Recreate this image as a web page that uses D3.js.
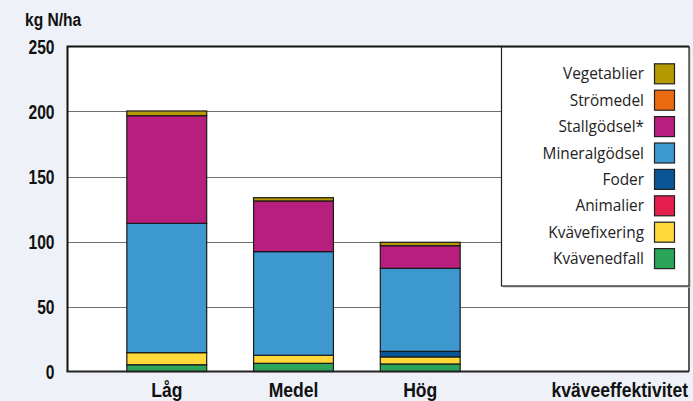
<!DOCTYPE html>
<html>
<head>
<meta charset="utf-8">
<script src="https://cdn.jsdelivr.net/npm/d3@7"></script>
<style>
  body { margin: 0; background: #eef1f8; }
  svg { display: block; }
  .bold { font-family: "Liberation Sans", Arial, sans-serif; font-weight: bold; fill: #111; }
  .leg { font-family: "Open Sans", sans-serif; font-size: 15.4px; fill: #222; }
</style>
</head>
<body>
<div id="chart"></div>
<script>
// categories along x
const categories = ["Låg", "Medel", "Hög"];

// series, bottom to top of the stack
const seriesNames = ["Kvävenedfall", "Kvävefixering", "Animalier", "Foder", "Mineralgödsel", "Stallgödsel*", "Strömedel", "Vegetablier"];
const seriesColors = ["#2ba55a", "#ffd93a", "#e41e4c", "#0a5595", "#3d98d0", "#b81e7e", "#ec6a10", "#b49a00"];

// values per series, one per category (kg N/ha)
const kvavenedfall = [5.2, 6.3, 5.8];
const kvavefixering = [9.3, 6.2, 5.4];
const animalier = [0, 0, 0];
const foder = [0, 0, 4.3];
const mineralgodsel = [99.5, 79.7, 63.9];
const stallgodsel = [82.8, 39.0, 17.4];
const stromedel = [0, 0, 0];
const vegetablier = [3.6, 2.5, 2.6];

const yTicks = [0, 50, 100, 150, 200, 250];

const seriesValues = [kvavenedfall, kvavefixering, animalier, foder, mineralgodsel, stallgodsel, stromedel, vegetablier];

const W = 693, H = 401;
const plot = { left: 67.5, right: 689, top: 46.5, bottom: 371.5 };

const rows = categories.map((c, i) => {
    const r = { cat: c };
    seriesNames.forEach((s, k) => { r[s] = seriesValues[k][i]; });
    return r;
});
const stacked = d3.stack().keys(seriesNames)(rows);

const svg = d3.select("#chart").append("svg")
    .attr("width", W)
    .attr("height", H);

const y = d3.scaleLinear().domain([0, 250]).range([plot.bottom, plot.top]);
const x = d3.scaleBand().domain(categories)
    .range([103.4, 483.6])
    .paddingInner(0.37)
    .paddingOuter(0.185);

// condensed bold label: no narrow font installed, so squeeze horizontally
function boldText(parent, txt, px, py, size, squeeze, anchor) {
    return parent.append("g")
        .attr("transform", `translate(${px},${py}) scale(${squeeze},1)`)
        .append("text")
        .attr("class", "bold")
        .attr("font-size", size)
        .attr("text-anchor", anchor)
        .text(txt);
}

// plot background
svg.append("rect")
    .attr("x", plot.left).attr("y", plot.top)
    .attr("width", plot.right - plot.left).attr("height", plot.bottom - plot.top)
    .attr("fill", "#fff");

// grid lines
svg.append("g")
    .selectAll("line")
    .data(yTicks.filter(t => t > 0 && t < 250))
    .join("line")
    .attr("x1", plot.left).attr("x2", plot.right)
    .attr("y1", d => Math.round(y(d)) + 0.5).attr("y2", d => Math.round(y(d)) + 0.5)
    .attr("stroke", "#707070")
    .attr("stroke-width", 1);

// bars
svg.append("g")
    .selectAll("g")
    .data(stacked)
    .join("g")
    .attr("fill", (d, i) => seriesColors[i])
    .selectAll("rect")
    .data(d => d.filter(p => p[1] - p[0] > 0))
    .join("rect")
    .attr("x", d => x(d.data.cat))
    .attr("y", d => y(d[1]))
    .attr("width", x.bandwidth())
    .attr("height", d => y(d[0]) - y(d[1]))
    .attr("stroke", "#1a1a1a")
    .attr("stroke-width", 1.2);

// frame
svg.append("path")
    .attr("d", `M${plot.left},${plot.bottom}V${plot.top}H${plot.right}`)
    .attr("fill", "none").attr("stroke", "#111").attr("stroke-width", 2);
svg.append("line")
    .attr("x1", plot.right).attr("x2", plot.right)
    .attr("y1", plot.top).attr("y2", plot.bottom)
    .attr("stroke", "#333").attr("stroke-width", 1.6);
svg.append("line")
    .attr("x1", plot.left - 1).attr("x2", plot.right)
    .attr("y1", plot.bottom).attr("y2", plot.bottom)
    .attr("stroke", "#222").attr("stroke-width", 2);

// y tick labels
yTicks.forEach(t => boldText(svg, t, 54.5, y(t) + 7, 19.5, 0.8, "end"));

boldText(svg, "kg N/ha", 25, 26, 19, 0.82, "start");

// x category labels
categories.forEach(c => boldText(svg, c, x(c) + x.bandwidth() / 2, 396.5, 19.5, 0.9, "middle"));

boldText(svg, "kväveeffektivitet", 688, 396.5, 19.5, 0.9, "end");

// legend
const leg = { x: 501.5, y: 47, w: 187.5, h: 239 };
svg.append("rect")
    .attr("x", leg.x + 1.5).attr("y", leg.y + 1.5)
    .attr("width", leg.w).attr("height", leg.h)
    .attr("fill", "#bbb");
svg.append("rect")
    .attr("x", leg.x).attr("y", leg.y)
    .attr("width", leg.w).attr("height", leg.h)
    .attr("fill", "#fff")
    .attr("stroke", "#222").attr("stroke-width", 1.2);

const legOrder = d3.range(seriesNames.length).reverse();
const legItems = svg.append("g")
    .selectAll("g")
    .data(legOrder)
    .join("g")
    .attr("transform", (d, i) => `translate(0, ${73.8 + i * 26.4})`);

legItems.append("rect")
    .attr("x", 654.5).attr("y", -10)
    .attr("width", 20).attr("height", 20)
    .attr("fill", d => seriesColors[d])
    .attr("stroke", "#222").attr("stroke-width", 1.2);

legItems.append("text")
    .attr("class", "leg")
    .attr("x", 644)
    .attr("y", 5.5)
    .attr("text-anchor", "end")
    .text(d => seriesNames[d]);
</script>
</body>
</html>
